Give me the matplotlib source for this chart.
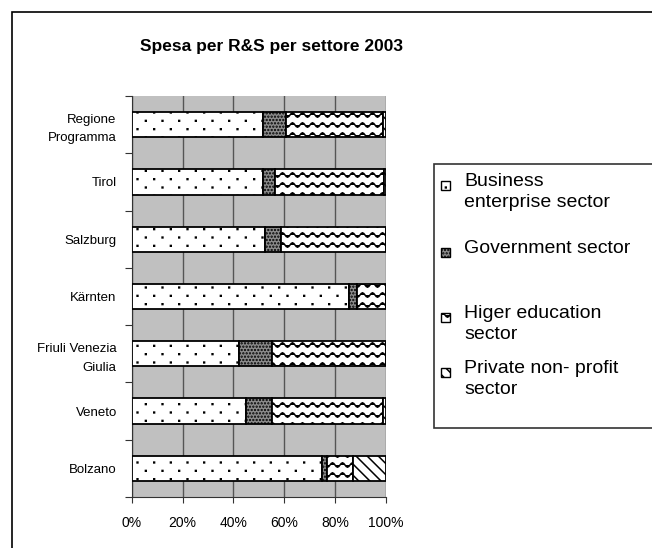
import numpy as np
import matplotlib
matplotlib.use("Agg")
import matplotlib.pyplot as plt
from matplotlib.patches import Rectangle
from matplotlib import hatch as mhatch
from matplotlib.path import Path

plt.rcParams['font.family'] = ['Liberation Sans', 'DejaVu Sans']
plt.rcParams['hatch.linewidth'] = 1.1


# custom hatch fills to mimic the Excel patterns
class SparseDots(mhatch.HatchPatternBase):
    # 'o' -> small staggered dots
    def __init__(self, hatch, density):
        self.on = hatch.count('o') > 0
        self.cols, self.rows = 6, 12
        self.num_vertices = self.cols * self.rows * 5 if self.on else 0

    def set_vertices_and_codes(self, vertices, codes):
        r = 0.004
        k = 0
        for j in range(self.rows):
            yc = (j + 0.5) / self.rows
            off = 0.5 if j % 2 else 0.0
            for i in range(self.cols):
                xc = (i + 0.25 + off) / self.cols
                vertices[k:k + 5] = [[xc - r, yc - r], [xc + r, yc - r],
                                     [xc + r, yc + r], [xc - r, yc + r],
                                     [xc - r, yc - r]]
                codes[k:k + 5] = [Path.MOVETO, Path.LINETO, Path.LINETO,
                                  Path.LINETO, Path.CLOSEPOLY]
                k += 5


class Waves(mhatch.HatchPatternBase):
    # '*' -> horizontal wavy lines
    def __init__(self, hatch, density):
        self.on = hatch.count('*') > 0
        self.rows, self.periods, self.steps = 10, 10, 8
        self.npts = self.periods * self.steps + 1
        self.num_vertices = self.rows * self.npts if self.on else 0

    def set_vertices_and_codes(self, vertices, codes):
        xs = np.linspace(0, 1, self.npts)
        for j in range(self.rows):
            y0 = (j + 0.5) / self.rows
            sl = slice(j * self.npts, (j + 1) * self.npts)
            vertices[sl, 0] = xs
            vertices[sl, 1] = y0 + 0.022 * np.sin(2 * np.pi * self.periods * xs)
            codes[sl] = Path.LINETO
            codes[j * self.npts] = Path.MOVETO


mhatch._hatch_types = [SparseDots if t is mhatch.SmallCircles else
                       Waves if t is mhatch.Stars else t
                       for t in mhatch._hatch_types]

# categories, bottom to top
regions = ['Bolzano', 'Veneto', 'Friuli Venezia\nGiulia', 'Kärnten',
           'Salzburg', 'Tirol', 'Regione\nProgramma']

# shares in percent
business = [74.9, 44.8, 42.3, 85.6, 52.6, 51.7, 51.7]
government = [2.1, 10.2, 12.7, 3.1, 6.3, 4.7, 8.9]
higher_edu = [10.1, 44.0, 45.0, 11.3, 41.1, 42.8, 38.4]
private_np = [12.9, 1.0, 0.0, 0.0, 0.0, 0.8, 1.0]

series_labels = ['Business\nenterprise sector', 'Government sector',
                 'Higer education\nsector', 'Private non- profit\nsector']
x_ticks = [0, 20, 40, 60, 80, 100]
x_tick_labels = ['0%', '20%', '40%', '60%', '80%', '100%']

styles = [
    dict(facecolor='white', hatch='o'),
    dict(facecolor='#8c8c8c', hatch='.....'),
    dict(facecolor='white', hatch='*'),
    dict(facecolor='white', hatch='\\\\\\'),
]

W, H = 652, 548
fig = plt.figure(figsize=(W / 100, H / 100), dpi=100)

# outer chart-area border (runs off right and bottom)
fig.patches.append(Rectangle((12 / W, -0.1), 1.2, 1 - 12 / H + 0.1,
                             transform=fig.transFigure, fill=False,
                             edgecolor='black', linewidth=1.2))

ax = fig.add_axes([132 / W, 51 / H, 253.7 / W, 401 / H])
ax.set_facecolor('#c0c0c0')

data = np.array([business, government, higher_edu, private_np])
totals = data.sum(axis=0)
shares = data / totals * 100
y = np.arange(len(regions))
left = np.zeros(len(regions))
for vals, st in zip(shares, styles):
    ax.barh(y, vals, left=left, height=0.44, edgecolor='black',
            linewidth=1.3, zorder=3, **st)
    left += vals

ax.set_xlim(0, 100)
ax.set_ylim(-0.5, len(regions) - 0.5)
ax.set_xticks(x_ticks)
ax.set_xticklabels(x_tick_labels, fontsize=10)
ax.tick_params(axis='x', length=4, pad=10, color='#333333')
ax.xaxis.grid(True, color='#555555', linewidth=1)
ax.set_axisbelow(True)

ax.set_yticks(np.arange(len(regions) + 1) - 0.5)
ax.set_yticklabels([])
ax.set_yticks(y, minor=True)
ax.set_yticklabels(regions, minor=True, fontsize=9.5, linespacing=1.7)
ax.tick_params(axis='y', which='major', length=5, color='#333333')
ax.tick_params(axis='y', which='minor', length=0, pad=11)

for side in ['top', 'right']:
    ax.spines[side].set_visible(False)
ax.spines['left'].set_color('#333333')
ax.spines['bottom'].set_color('#333333')

fig.text(271 / W, 1 - 47 / H, 'Spesa per R&S per settore 2003',
         ha='center', va='center', fontsize=12.5, fontweight='bold')

# legend
fig.patches.append(Rectangle((434 / W, 1 - 428 / H), 1, (428 - 164) / H,
                             transform=fig.transFigure, facecolor='white',
                             edgecolor='#333333', linewidth=1.2))
entry_y = [185, 252, 317, 372]
for lab, st, ey in zip(series_labels, styles, entry_y):
    fig.patches.append(Rectangle((441 / W, 1 - (ey + 5) / H), 9 / W, 9 / H,
                                 transform=fig.transFigure, edgecolor='black',
                                 linewidth=1, **st))
    fig.text(464 / W, 1 - (ey - 12) / H, lab, ha='left', va='top',
             fontsize=14, linespacing=1.3)

fig.savefig('out.png', dpi=100)
